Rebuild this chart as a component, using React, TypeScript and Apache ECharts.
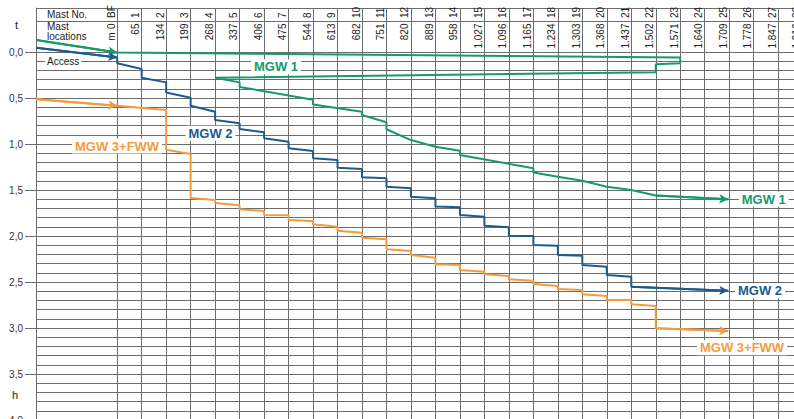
import React, { useEffect, useRef } from "react";
import * as echarts from "echarts";

// ---------- data ----------
const mastNumbers = ["BF","1","2","3","4","5","6","7","8","9","10","11","12","13","14","15","16","17","18","19","20","21","22","23","24","25","26","27","28"];
const mastLocations = ["0","65","134","199","268","337","406","475","544","613","682","751","820","889","958","1.027","1.096","1.165","1.234","1.303","1.368","1.437","1.502","1.571","1.640","1.709","1.778","1.847","1.916"];
const yTickValues = [0, 0.5, 1, 1.5, 2, 2.5, 3, 3.5, 4];
const gridStepT = 0.1;
const gridMaxT = 4.2;

// [mast index, t]
const mgw1: [number, number][] = [
  [-3.31, -0.13], [0, 0.005], [0, 0.01], [23, 0.06], [23, 0.123], [22, 0.134], [22, 0.22],
  [4, 0.28], [5, 0.33], [5, 0.38], [8, 0.52], [8, 0.57], [10, 0.65], [10, 0.685],
  [11, 0.764], [11, 0.84], [12, 0.957], [13, 1.03], [14, 1.073], [14, 1.12],
  [17, 1.264], [17, 1.31], [18, 1.355], [19, 1.4], [20, 1.465], [21, 1.5], [22, 1.56], [24.96, 1.6],
];
const mgw2: [number, number][] = [
  [-3.31, -0.047], [0, 0.06], [0, 0.123], [1, 0.185], [1, 0.28], [2, 0.33], [2, 0.44],
  [3, 0.497], [3, 0.584], [4, 0.65], [4, 0.74], [5, 0.775], [5, 0.837], [6, 0.873], [6, 0.938],
  [7, 0.975], [7, 1.047], [8, 1.076], [8, 1.155], [9, 1.174], [9, 1.258], [10, 1.272], [10, 1.362],
  [11, 1.373], [11, 1.464], [12, 1.48], [12, 1.573], [13, 1.59], [13, 1.68], [14, 1.688], [14, 1.772],
  [15, 1.79], [15, 1.888], [16, 1.905], [16, 1.997], [17, 2.0], [17, 2.098], [18, 2.105], [18, 2.207],
  [19, 2.214], [19, 2.315], [20, 2.334], [20, 2.424], [21, 2.442], [21, 2.551], [24.96, 2.595],
];
const mgw3: [number, number][] = [
  [-3.31, 0.514], [0, 0.584], [2, 0.63], [2, 1.062], [3, 1.109], [3, 1.587], [4, 1.609], [4, 1.641],
  [5, 1.666], [5, 1.709], [6, 1.728], [6, 1.772], [7, 1.775], [7, 1.826], [8, 1.837], [8, 1.873],
  [9, 1.899], [9, 1.942], [10, 1.964], [10, 2.02], [11, 2.036], [11, 2.145], [12, 2.163], [12, 2.207],
  [13, 2.236], [13, 2.308], [14, 2.315], [14, 2.37], [15, 2.388], [15, 2.416], [16, 2.435], [16, 2.471],
  [17, 2.486], [17, 2.522], [18, 2.543], [18, 2.576], [19, 2.587], [19, 2.634], [20, 2.652], [20, 2.696],
  [21, 2.696], [21, 2.742], [22, 2.761], [22, 3.003], [24.96, 3.033],
];

// ---------- layout ----------
const FONT = "'Liberation Sans', Arial, Helvetica, sans-serif";
const CHART_W = 830;
const CHART_H = 440;
const GRID_LEFT = 36;
const GRID_TOP = 8;
const MAST0_PX = 117.2;
const MAST_PX = 24.48;
const T0_PX = 52;
const T_PX = 92;
const X_MIN = (GRID_LEFT - MAST0_PX) / MAST_PX;
const X_MAX = (CHART_W - MAST0_PX) / MAST_PX;
const Y_MIN = (GRID_TOP - T0_PX) / T_PX;
const Y_MAX = (CHART_H - T0_PX) / T_PX;
const px = (m: number) => MAST0_PX + m * MAST_PX;

const GREEN = "#169a6c";
const BLUE = "#1d5b8f";
const ORANGE = "#f39c3e";
const GRIDC = "#6c6c6c";

function arrowSegs(d: [number, number][]) {
  const n = d.length;
  return [
    [{ coord: d[0] }, { coord: d[1] }],
    [{ coord: d[n - 2] }, { coord: d[n - 1] }],
  ];
}

function dataSeries(name: string, d: [number, number][], color: string) {
  return {
    name,
    type: "line",
    data: d,
    symbol: "none",
    showSymbol: false,
    z: 5,
    silent: true,
    lineStyle: { color, width: 2 },
    markLine: {
      silent: true,
      symbol: ["none", "arrow"],
      symbolSize: [7, 9],
      label: { show: false },
      lineStyle: { color, width: 2, type: "solid" },
      emphasis: { disabled: true },
      data: arrowSegs(d),
    },
  };
}

export default function App() {
  const ref = useRef<HTMLDivElement>(null);
  useEffect(() => {
    if (!ref.current) return;
    const chart = echarts.init(ref.current, null, { renderer: "svg", width: CHART_W, height: CHART_H });

    const hLines: any[] = [];
    const nH = Math.round(gridMaxT / gridStepT);
    for (let i = 0; i <= nH; i++) hLines.push({ yAxis: +(i * gridStepT).toFixed(2) });
    const vLines = mastNumbers.map((_, i) => ({ xAxis: i }));

    const rotText = (text: string, x: number, y: number, align: string, rot = Math.PI / 2) => ({
      type: "text",
      x,
      y,
      rotation: rot,
      z: 100,
      silent: true,
      style: { text, fontSize: 10, fontFamily: FONT, fill: "#222", align, verticalAlign: "middle" },
    });
    const text = (t: string, x: number, y: number, extra: any = {}) => ({
      type: "text",
      x,
      y,
      z: 100,
      silent: true,
      style: { text: t, fontSize: 10, fontFamily: FONT, fill: "#222", align: "left", verticalAlign: "middle", ...extra },
    });
    const seriesLabel = (t: string, left: number, cy: number, color: string) =>
      text(t, left - 3, cy, {
        fontSize: 13,
        fontWeight: "bold",
        fill: color,
        backgroundColor: "#fff",
        padding: [1, 3, 1, 3],
      });

    const graphic: any[] = [
      { type: "line", z: 100, silent: true, shape: { x1: GRID_LEFT, y1: 8.5, x2: CHART_W, y2: 8.5 }, style: { stroke: GRIDC, lineWidth: 1 } },
      { type: "line", z: 100, silent: true, shape: { x1: GRID_LEFT, y1: 21.5, x2: CHART_W, y2: 21.5 }, style: { stroke: GRIDC, lineWidth: 1 } },
      text("t", 15, 24.5, { fontSize: 11 }),
      text("h", 12, 395, { fontSize: 11 }),
      text("Mast No.", 47, 14.5),
      text("Mast", 47, 26.5),
      text("locations", 47, 36),
      text("Access", 45, 61, { backgroundColor: "#fff", padding: [0, 2, 0, 2] }),
      rotText("m", px(0) - 6, 36.5, "center"),
      ...mastNumbers.map((s, i) => rotText(s, px(i) - 6, 18, "left")),
      ...mastLocations.map((s, i) => rotText(s, px(i) - 6, 23.5, "right")),
      seriesLabel("MGW 1", 254, 66.7, GREEN),
      seriesLabel("MGW 2", 188.5, 133.3, BLUE),
      seriesLabel("MGW 3+FWW", 75, 146, ORANGE),
      seriesLabel("MGW 1", 741.7, 199.3, GREEN),
      seriesLabel("MGW 2", 738, 290.7, BLUE),
      seriesLabel("MGW 3+FWW", 700, 347.7, ORANGE),
    ];

    chart.setOption({
      animation: false,
      backgroundColor: "#fff",
      grid: { left: GRID_LEFT, top: GRID_TOP, right: 0, bottom: 0, containLabel: false },
      xAxis: {
        type: "value",
        min: X_MIN,
        max: X_MAX,
        show: false,
        splitLine: { show: false },
      },
      yAxis: {
        type: "value",
        inverse: true,
        min: Y_MIN,
        max: Y_MAX,
        axisLine: { show: true, onZero: false, lineStyle: { color: GRIDC, width: 1 } },
        axisTick: { show: true, length: 11, customValues: yTickValues, lineStyle: { color: GRIDC } },
        axisLabel: {
          customValues: yTickValues,
          margin: 13,
          fontSize: 10,
          fontFamily: FONT,
          color: "#333",
          formatter: (v: number) => v.toFixed(1).replace(".", ","),
        },
        splitLine: { show: false },
      },
      series: [
        {
          name: "grid",
          type: "line",
          data: [[X_MIN, Y_MAX]],
          symbol: "none",
          showSymbol: false,
          z: 1,
          silent: true,
          lineStyle: { opacity: 0 },
          markLine: {
            silent: true,
            symbol: "none",
            label: { show: false },
            lineStyle: { color: GRIDC, width: 1, type: "solid" },
            emphasis: { disabled: true },
            data: [...hLines, ...vLines],
          },
        },
        dataSeries("MGW 1", mgw1, GREEN),
        dataSeries("MGW 2", mgw2, BLUE),
        dataSeries("MGW 3+FWW", mgw3, ORANGE),
      ],
      graphic,
    });
    return () => chart.dispose();
  }, []);
  return (
    <div
      ref={ref}
      style={{ position: "fixed", left: 0, top: 0, width: CHART_W, height: CHART_H, background: "#fff" }}
    />
  );
}
